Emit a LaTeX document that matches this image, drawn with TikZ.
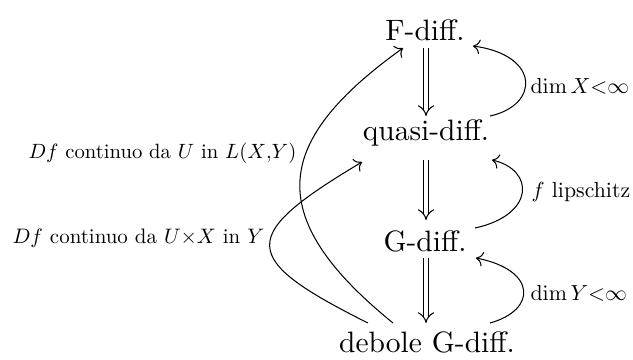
\documentclass[tikz,border=0pt]{standalone}
\usetikzlibrary{arrows.meta,calc}
\newcommand{\lbltxt}[2][0.74]{\scalebox{#1}{#2}}
\begin{document}
\begin{tikzpicture}[x=0.339pt,y=-0.339pt,
 main/.style={font=\fontsize{10}{12}\selectfont, inner sep=0pt, anchor=base},
 lab/.style={font=\fontsize{10}{12}\selectfont, inner sep=0pt, anchor=base west},
 impl/.style={double, double equal sign distance, -{Implies}, line width=0.35pt},
 arr/.style={->, line width=0.35pt}]
\useasboundingbox (0,0) rectangle (633,359);
\node[main] (F) at (425,40) {F-diff.};
\node[main] (Q) at (426,140) {quasi-diff.};
\node[main] (G) at (425,251) {G-diff.};
\node[main] (D) at (427,352) {debole G-diff.};
\node[lab] (l1) at (530,93) {\lbltxt{$\dim X{<}\infty$}};
\node[lab] (l2) at (531,197) {\lbltxt{$f$ lipschitz}};
\node[lab] (l3) at (530,300) {\lbltxt{$\dim Y{<}\infty$}};
\node[lab] (l4) at (28,158) {\lbltxt[0.70]{$Df$ continuo da $U$ in $L(X{,}Y)$}};
\node[lab] (l5) at (12,243) {\lbltxt[0.71]{$Df$ continuo da $U{\times}X$ in $Y$}};
% implications
\draw[impl] ($(F.base)+(1,8)$) -- ($(Q.base)+(0,-24)$);
\draw[impl] ($(Q.base)+(0,20)$) -- ($(G.base)+(1,-31)$);
\draw[impl] ($(G.base)+(1,7)$) -- ($(D.base)+(-1,-29)$);
% right loops
\draw[arr] ($(Q.base)+(64,-24)$) .. controls (540,105) and (540,55) .. ($(F.base)+(48,6)$);
\draw[arr] ($(G.base)+(50,-23)$) .. controls (535,215) and (535,170) .. ($(Q.base)+(66,20)$);
\draw[arr] ($(D.base)+(63,-29)$) .. controls (537,310) and (537,270) .. ($(G.base)+(51,7)$);
% left curves
\draw[arr] ($(D.base)+(-34,-29)$) .. controls (260,215) and (275,140) .. ($(F.base)+(-22,8)$);
\draw[arr] ($(D.base)+(-59,-29)$) .. controls (238,258) and (238,236) .. ($(Q.base)+(-64,22)$);
\end{tikzpicture}
\end{document}
